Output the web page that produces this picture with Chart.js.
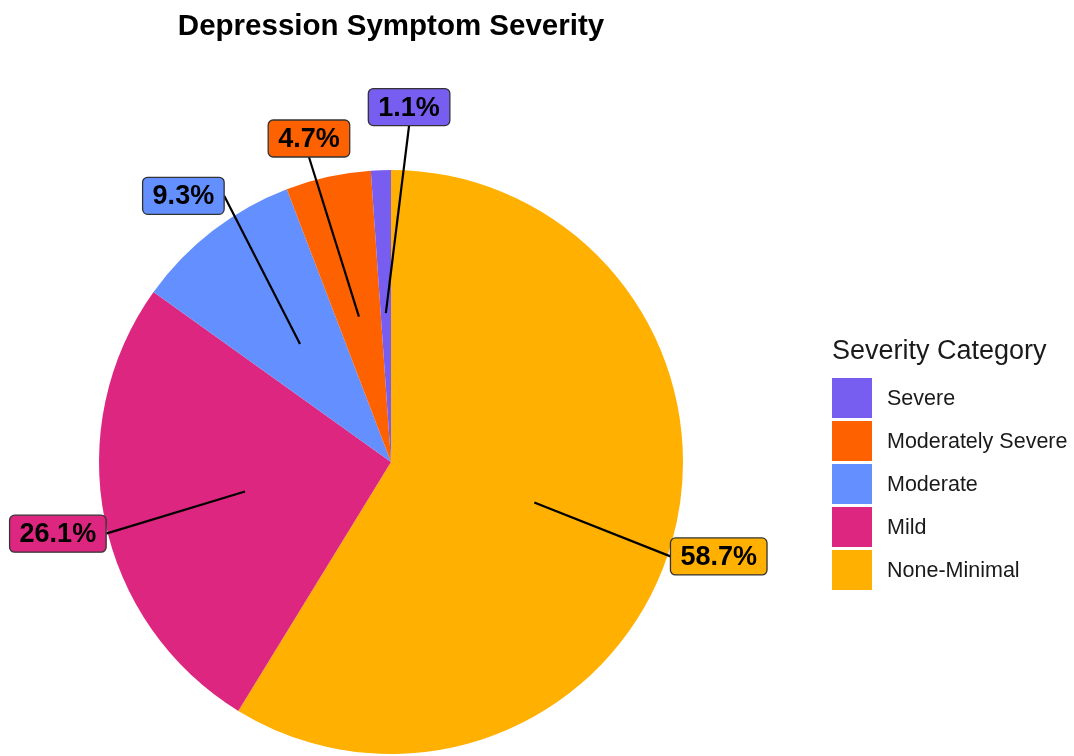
<!DOCTYPE html>
<html>
<head>
<meta charset="utf-8">
<script src="https://cdn.jsdelivr.net/npm/chart.js@4"></script>
<style>
    html, body { margin: 0; padding: 0; background: #fff; }
</style>
</head>
<body>
<canvas id="pieChart" width="1074" height="756"></canvas>
<script>
// Data, in drawing order (clockwise from 12 o'clock)
const categories = ['None-Minimal', 'Mild', 'Moderate', 'Moderately Severe', 'Severe'];
const percentages = [58.7, 26.1, 9.3, 4.7, 1.1];
const sliceColors = ['#FFB000', '#DC267F', '#648FFF', '#FE6100', '#785EF0'];
const chartTitle = 'Depression Symptom Severity';
const legendTitle = 'Severity Category';

const FONT = '"Liberation Sans", Arial, Helvetica, sans-serif';

// callout boxes with leader lines (ggrepel look)
const calloutLabels = {
    id: 'calloutLabels',
    afterDatasetsDraw(chart, args, opts) {
        const ctx = chart.ctx;
        const meta = chart.getDatasetMeta(0);
        const boxes = [];
        ctx.save();
        ctx.font = 'bold 27px ' + FONT;
        meta.data.forEach((arc, i) => {
            const p = arc.getProps(['x', 'y', 'startAngle', 'endAngle', 'outerRadius'], true);
            const mid = (p.startAngle + p.endAngle) / 2;
            const ax = p.x + Math.cos(mid) * p.outerRadius * 0.51;
            const ay = p.y + Math.sin(mid) * p.outerRadius * 0.51;
            const n = opts.nudges[i];
            const la = mid + n.da * Math.PI / 180;
            const cx = p.x + Math.cos(la) * p.outerRadius * n.r;
            const cy = p.y + Math.sin(la) * p.outerRadius * n.r;
            const text = percentages[i].toFixed(1) + '%';
            const w = ctx.measureText(text).width + 20;
            const h = 37;
            // connect to the middle of the nearest side
            const dx = ax - cx, dy = ay - cy;
            let ex, ey;
            if (Math.abs(dx) > Math.abs(dy) * 0.7) {
                ex = cx + Math.sign(dx) * w / 2; ey = cy;
            } else {
                ex = cx; ey = cy + Math.sign(dy) * h / 2;
            }
            ctx.beginPath();
            ctx.moveTo(ax, ay);
            ctx.lineTo(ex, ey);
            ctx.strokeStyle = '#000';
            ctx.lineWidth = 2.2;
            ctx.stroke();
            boxes.push({cx, cy, w, h, text, color: sliceColors[i]});
        });
        boxes.forEach(b => {
            ctx.beginPath();
            ctx.roundRect(b.cx - b.w / 2, b.cy - b.h / 2, b.w, b.h, 5);
            ctx.fillStyle = b.color;
            ctx.fill();
            ctx.strokeStyle = '#333';
            ctx.lineWidth = 1.3;
            ctx.stroke();
            ctx.fillStyle = '#000';
            ctx.textAlign = 'center';
            ctx.textBaseline = 'middle';
            ctx.fillText(b.text, b.cx, b.cy + 1);
        });
        ctx.restore();
    }
};

// legend on the right, listed in reverse order like the original
const sideLegend = {
    id: 'sideLegend',
    afterDraw(chart, args, opts) {
        const ctx = chart.ctx;
        ctx.save();
        ctx.fillStyle = '#1a1a1a';
        ctx.textBaseline = 'middle';
        ctx.textAlign = 'left';
        ctx.font = '27px ' + FONT;
        ctx.fillText(legendTitle, opts.x, opts.titleY);
        ctx.font = '21.5px ' + FONT;
        const order = categories.map((c, i) => i).reverse();
        order.forEach((idx, row) => {
            const top = opts.top + row * opts.step;
            ctx.fillStyle = sliceColors[idx];
            ctx.fillRect(opts.x, top, opts.box, opts.box);
            ctx.fillStyle = '#1a1a1a';
            ctx.fillText(categories[idx], opts.x + 55, top + opts.box / 2 + 1);
        });
        ctx.restore();
    }
};

document.addEventListener('DOMContentLoaded', () => {
    const ctx = document.getElementById('pieChart').getContext('2d');
    new Chart(ctx, {
        type: 'pie',
        data: {
            labels: categories,
            datasets: [{
                data: percentages,
                backgroundColor: sliceColors,
                borderWidth: 0
            }]
        },
        options: {
            responsive: false,
            animation: false,
            layout: {
                padding: { left: 99, right: 391, top: 0, bottom: 2 }
            },
            plugins: {
                title: {
                    display: true,
                    text: chartTitle,
                    color: '#000',
                    font: { family: FONT, size: 29.5, weight: 'bold' },
                    padding: { top: 9, bottom: 125.6 }
                },
                legend: { display: false },
                tooltip: { enabled: false },
                calloutLabels: {
                    nudges: [
                        { r: 1.168, da: 0.3 },
                        { r: 1.167, da: -0.7 },
                        { r: 1.156, da: -0.3 },
                        { r: 1.143, da: -1.8 },
                        { r: 1.217, da: 4.9 }
                    ]
                },
                sideLegend: { x: 832, titleY: 352, top: 378, step: 43, box: 40 }
            }
        },
        plugins: [calloutLabels, sideLegend]
    });
});
</script>
</body>
</html>
